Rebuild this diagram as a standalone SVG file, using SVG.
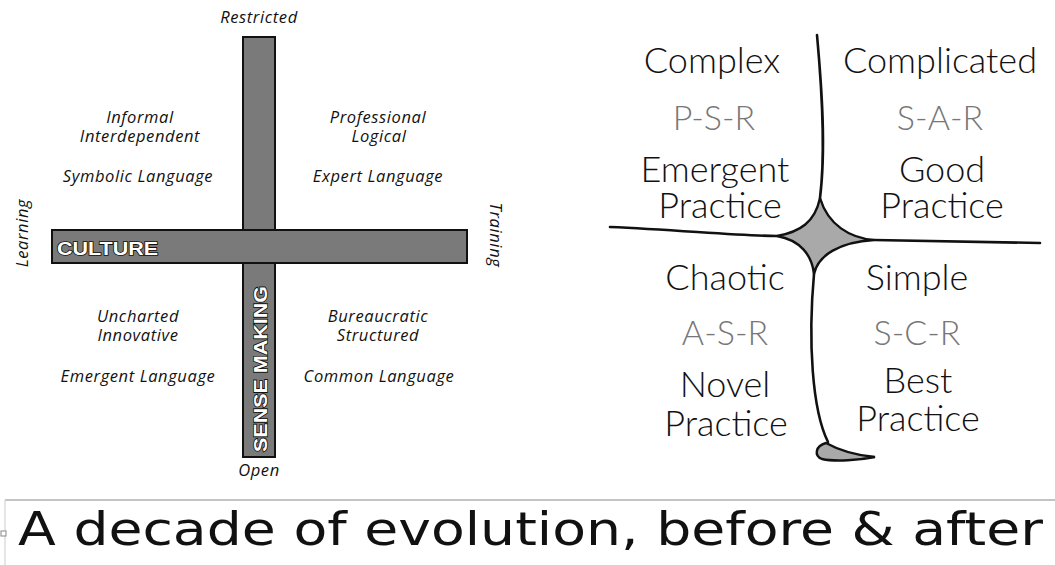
<svg xmlns="http://www.w3.org/2000/svg" width="1055" height="565" viewBox="0 0 1055 565">
  <style>
    .lbl { font-family: "Open Sans", "DejaVu Sans", sans-serif; font-style: italic; font-size: 16.5px; letter-spacing: 0.6px; fill: #111; text-anchor: middle; }
    .bar { fill: #7a7a7a; stroke: #111; stroke-width: 2; }
    .bartext { font-family: "Liberation Sans", Arial, sans-serif; font-weight: bold; fill: #fff; stroke: #111; stroke-width: 1.6; paint-order: stroke; }
    .dom { font-family: "Lato", "Noto Sans", sans-serif; font-weight: 300; font-size: 36px; fill: #111; text-anchor: middle; }
    .seq { font-family: "Lato", "Noto Sans", sans-serif; font-weight: 300; font-size: 34px; fill: #777; text-anchor: middle; }
    .edge { fill: none; stroke: #111; stroke-width: 2.6; stroke-linecap: round; }
    .core { fill: #a9a9a9; stroke: #111; stroke-width: 2.4; }
    .caption { font-family: "DejaVu Sans", "Noto Sans", sans-serif; font-size: 46px; fill: #111; }
  </style>

  <rect width="1055" height="565" fill="#fff"/>

  <!-- Culture / sense-making cross -->
  <g id="culture-model">
    <rect id="sense-bar" class="bar" x="243" y="37" width="32" height="420"/>
    <rect id="culture-bar" class="bar" x="52" y="230" width="415" height="33"/>
    <text class="bartext" x="57" y="255" font-size="19" textLength="101" lengthAdjust="spacingAndGlyphs">CULTURE</text>
    <text class="bartext" transform="translate(267,452) rotate(-90)" font-size="19" textLength="166" lengthAdjust="spacingAndGlyphs">SENSE MAKING</text>
  </g>

  <g id="axis-labels">
    <text class="lbl" x="259" y="23">Restricted</text>
    <text class="lbl" x="259" y="476">Open</text>
    <text class="lbl" transform="translate(28,233) rotate(-90)">Learning</text>
    <text class="lbl" transform="translate(490,235) rotate(90)">Training</text>
  </g>

  <g id="quadrant-top-left">
    <text class="lbl" x="140" y="123">Informal</text>
    <text class="lbl" x="140" y="142">Interdependent</text>
    <text class="lbl" x="138" y="182">Symbolic Language</text>
  </g>
  <g id="quadrant-top-right">
    <text class="lbl" x="378" y="123">Professional</text>
    <text class="lbl" x="379" y="142">Logical</text>
    <text class="lbl" x="378" y="182">Expert Language</text>
  </g>
  <g id="quadrant-bottom-left">
    <text class="lbl" x="138" y="322">Uncharted</text>
    <text class="lbl" x="138" y="341">Innovative</text>
    <text class="lbl" x="138" y="382">Emergent Language</text>
  </g>
  <g id="quadrant-bottom-right">
    <text class="lbl" x="378" y="322">Bureaucratic</text>
    <text class="lbl" x="378" y="341">Structured</text>
    <text class="lbl" x="379" y="382">Common Language</text>
  </g>

  <!-- Cynefin boundaries -->
  <g id="connectors">
    <path class="core" d="M820,198 C815,222 800,232 777,236 C800,240 812,255 814,274 C818,255 840,242 874,240 C850,238 828,225 820,198 Z"/>
    <path class="edge" d="M817,35 C822,90 826,150 820,198"/>
    <path class="edge" d="M610,227 C680,230 740,236 777,236"/>
    <path class="edge" d="M874,240 C950,241 1000,242 1040,243"/>
    <path class="edge" d="M814,274 C808,340 812,410 828,442"/>
    <path class="core" d="M826,443 C835,448 852,455 875,457 C860,460 835,462 822,459 C814,456 815,446 826,443 Z"/>
  </g>

  <g id="domain-complex">
    <text class="dom" x="712" y="73">Complex</text>
    <text class="seq" x="714" y="130">P-S-R</text>
    <text class="dom" x="715" y="182">Emergent</text>
    <text class="dom" x="720" y="218">Practice</text>
  </g>
  <g id="domain-complicated">
    <text class="dom" x="940" y="73">Complicated</text>
    <text class="seq" x="940" y="130">S-A-R</text>
    <text class="dom" x="942" y="182">Good</text>
    <text class="dom" x="942" y="218">Practice</text>
  </g>
  <g id="domain-chaotic">
    <text class="dom" x="725" y="290">Chaotic</text>
    <text class="seq" x="725" y="345">A-S-R</text>
    <text class="dom" x="725" y="397">Novel</text>
    <text class="dom" x="726" y="436">Practice</text>
  </g>
  <g id="domain-simple">
    <text class="dom" x="917" y="290">Simple</text>
    <text class="seq" x="917" y="345">S-C-R</text>
    <text class="dom" x="918" y="393">Best</text>
    <text class="dom" x="918" y="431">Practice</text>
  </g>

  <!-- Caption box -->
  <g id="caption">
    <line x1="5" y1="500" x2="1055" y2="500" stroke="#c4c4c4" stroke-width="2"/>
    <line x1="5" y1="500" x2="5" y2="565" stroke="#dcdcdc" stroke-width="1.5"/>
    <rect x="1" y="531" width="5" height="5" fill="#fff" stroke="#888" stroke-width="1"/>
    <text class="caption" x="18" y="545" textLength="1025" lengthAdjust="spacingAndGlyphs">A decade of evolution, before &amp; after</text>
  </g>
</svg>
